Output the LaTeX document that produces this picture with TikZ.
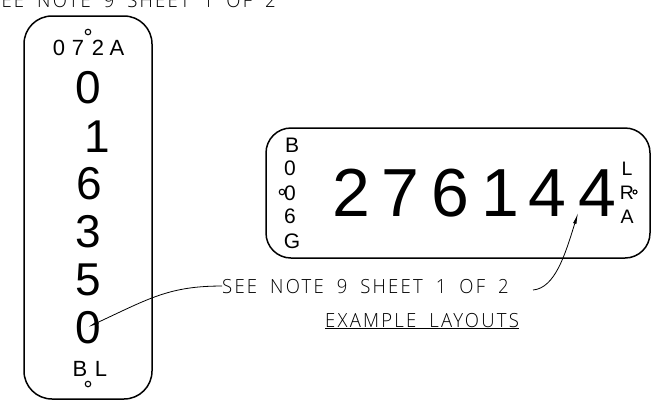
\documentclass[tikz,border=0pt]{standalone}
\usepackage{fontspec}
\setmainfont{Liberation Sans}
\newfontfamily\notefont[UprightFont=* Light,LetterSpace=12,WordSpace=1.85]{Open Sans}
\usetikzlibrary{arrows.meta}
\newcommand{\fsz}[1]{\fontsize{#1}{#1}\selectfont}
\tikzset{
 x=1pt,y=-1pt,
 panel/.style={line width=1.5pt,draw=black},
 glyph/.style={anchor=base,inner sep=0pt,text=black},
 big/.style={glyph,font=\fsz{46}},
 huge/.style={glyph,font=\fsz{68}},
 small/.style={glyph,font=\fsz{22}},
 side/.style={glyph,font=\fsz{21}},
 notetext/.style={anchor=base west,inner sep=0pt,font=\notefont\fsz{19.5}},
 hole/.style={circle,draw=black,line width=1.1pt,inner sep=0pt,minimum size=5.5pt},
 leader/.style={line width=0.8pt,-{Latex[length=11pt,width=3.5pt]}},
}
\begin{document}
\begin{tikzpicture}
\useasboundingbox (0,0) rectangle (655,413);
\clip (0,0) rectangle (655,413);
\fill[white] (0,0) rectangle (655,413);
\draw[panel,rounded corners=28pt] (24,16) rectangle (152,399);
\draw[panel,rounded corners=25pt] (266,128) rectangle (650,258);
\node[notetext] (topnote) at (-11,7.5) {\scalebox{0.95}[1]{SEE NOTE 9 SHEET 1 OF 2}};
\node[hole] (h1) at (88,32) {};
\node[small] (a1) at (59,55.5) {0};
\node[small] (a2) at (78,55.5) {7};
\node[small] (a3) at (98,55.5) {2};
\node[small] (a4) at (117,55.5) {A};
\node[big] (d1) at (88,103.5) {0};
\node[big] (d2) at (97,152) {1};
\node[big] (d3) at (89,199.5) {6};
\node[big] (d4) at (88,247) {3};
\node[big] (d5) at (88,295) {5};
\node[big] (d6) at (88,343.5) {0};
\node[small] (b1) at (80,376) {B};
\node[small] (b2) at (101,376) {L};
\node[hole] (h2) at (88,384) {};
\node[side] (s1) at (292,152) {B};
\node[side] (s2) at (290,175) {0};
\node[side] (s3) at (290,200) {0};
\node[side] (s4) at (290,223) {6};
\node[side] (s5) at (292,248) {G};
\node[hole] (h3) at (282,192) {};
\node[huge] (n1) at (351,216.5) {2};
\node[huge] (n2) at (400,216.5) {7};
\node[huge] (n3) at (450,216.5) {6};
\node[huge] (n4) at (500,216.5) {1};
\node[huge] (n5) at (547,216.5) {4};
\node[huge] (n6) at (597,216.5) {4};
\node[glyph,font=\fsz{19.5}] (r1) at (627,175) {L};
\node[glyph,font=\fsz{19.5}] (r2) at (627,199) {R};
\node[glyph,font=\fsz{19.5}] (r3) at (627,223) {A};
\node[hole,minimum size=4pt] (h4) at (635,192) {};
\node[notetext] (note) at (222,293) {\scalebox{0.95}[1]{SEE NOTE 9 SHEET 1 OF 2}};
\node[notetext] (ex) at (325,327) {\scalebox{0.95}[1]{EXAMPLE LAYOUTS}};
\draw[line width=1.2pt] ([yshift=-1.5pt]ex.base west) -- ([yshift=-1.5pt]ex.base east);
\coordinate (tipL) at (88,327);
\coordinate (tipR) at (578,213);
\coordinate (startR) at (533,290);
\draw[leader] (note.west) .. controls (170,286) and (150,298) .. (tipL);
\draw[leader] (startR) .. controls (555,288) and (565,255) .. (tipR);
\end{tikzpicture}
\end{document}
